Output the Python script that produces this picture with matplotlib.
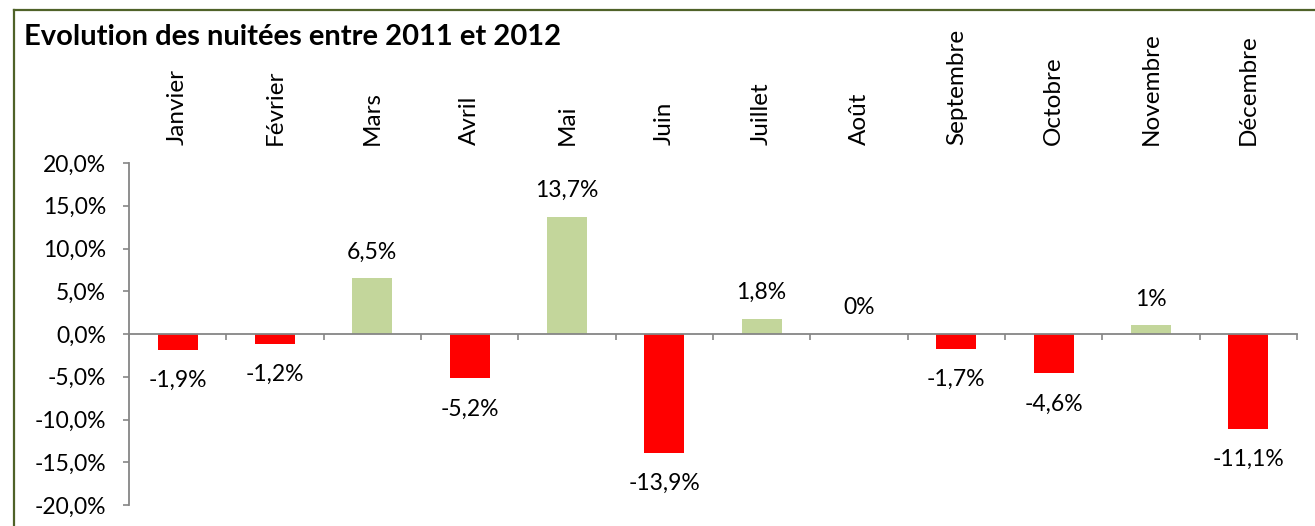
import numpy as np
import matplotlib.pyplot as plt
from matplotlib.lines import Line2D
from matplotlib.ticker import FuncFormatter, FixedLocator

plt.rcParams['font.family'] = ['Lato', 'DejaVu Sans']

months = ['Janvier', 'Février', 'Mars', 'Avril', 'Mai', 'Juin', 'Juillet',
          'Août', 'Septembre', 'Octobre', 'Novembre', 'Décembre']
evolution = [-1.9, -1.2, 6.5, -5.2, 13.7, -13.9, 1.8, 0.0, -1.7, -4.6, 1.0, -11.1]

green = '#C3D69B'
red = '#FF0000'
axis_grey = '#868686'

fig = plt.figure(figsize=(13.15, 5.26), dpi=100)
ax = fig.add_axes([129 / 1315, 1 - 505 / 526, (1297 - 129) / 1315, (505 - 163) / 526])

x = np.arange(len(months))
colors = [green if v >= 0 else red for v in evolution]
ax.bar(x, evolution, width=0.41, color=colors)

ax.set_xlim(-0.5, len(months) - 0.5)
ax.set_ylim(-20, 20)
ax.set_yticks(np.arange(-20, 21, 5))
ax.yaxis.set_major_formatter(FuncFormatter(lambda v, p: f'{v:.1f}%'.replace('.', ',')))
ax.tick_params(axis='y', direction='out', length=4.5, width=1.2, color=axis_grey,
               labelsize=16.5, pad=12)

ax.spines['bottom'].set_position(('data', 0))
ax.spines['top'].set_visible(False)
ax.spines['right'].set_visible(False)
for s in ['left', 'bottom']:
    ax.spines[s].set_color(axis_grey)
    ax.spines[s].set_linewidth(1.3)
ax.xaxis.set_major_locator(FixedLocator(np.arange(-0.5, len(months), 1)))
ax.tick_params(axis='x', direction='out', length=4.5, width=1.2, color=axis_grey,
               labelbottom=False)

# data labels
for xi, v in zip(x, evolution):
    lab = f'{v:g}%'.replace('.', ',')
    if v >= 0:
        ax.annotate(lab, (xi, v), xytext=(0, 19), textcoords='offset points',
                    ha='center', va='center', fontsize=16.5)
    else:
        ax.annotate(lab, (xi, v), xytext=(0, -22), textcoords='offset points',
                    ha='center', va='center', fontsize=16.5)

# month names on top
for xi, m in zip(x, months):
    fx = (129 + (xi + 0.5) * (1297 - 129) / 12) / 1315
    fig.text(fx, 1 - 145 / 526, m, rotation=90, ha='center', va='bottom', fontsize=17.5)

fig.text(24 / 1315, 1 - 45 / 526, 'Evolution des nuitées entre 2011 et 2012',
         fontsize=21, fontweight='bold', ha='left', va='baseline')

# chart border (left and top)
bc = '#4F6228'
fig.add_artist(Line2D([14 / 1315, 14 / 1315], [0, 1 - 10 / 526], color=bc, lw=1.6))
fig.add_artist(Line2D([14 / 1315, 1], [1 - 10 / 526, 1 - 10 / 526], color=bc, lw=1.6))

fig.savefig('out.png', dpi=100)
